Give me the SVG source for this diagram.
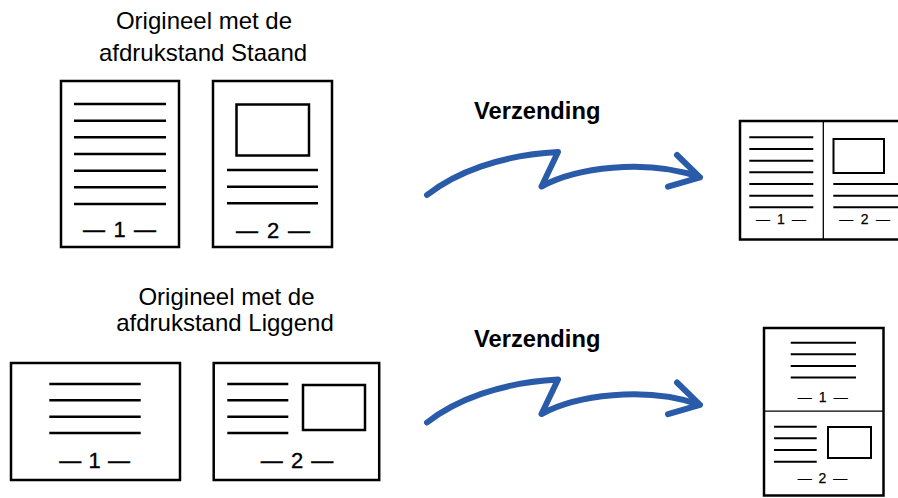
<svg xmlns="http://www.w3.org/2000/svg" width="898" height="498" viewBox="0 0 898 498">
<style>
.pg{fill:#fff;stroke:#000;stroke-width:2.5}
.pic{fill:#fff;stroke:#000;stroke-width:2.5}
.pics{fill:#fff;stroke:#000;stroke-width:2}
.ln{stroke:#000;stroke-width:2.5;fill:none}
.lns{stroke:#000;stroke-width:2;fill:none}
.div{stroke:#000;stroke-width:1.3;fill:none}
.t{font-family:"Liberation Sans",Arial,sans-serif;font-size:24px;fill:#000;text-anchor:middle}
.b{font-family:"Liberation Sans",Arial,sans-serif;font-size:23.7px;font-weight:bold;fill:#000}
.n{font-family:"Liberation Sans",Arial,sans-serif;font-size:22px;fill:#000;stroke:#000;stroke-width:0.35}
.ns{font-family:"Liberation Sans",Arial,sans-serif;font-size:14px;fill:#000;stroke:#000;stroke-width:0.25}
.arr{fill:none;stroke:#2a5ba8;stroke-width:6;stroke-linecap:round;stroke-linejoin:round}
</style>
<defs>
<path id="arrow" d="M427,195 C455,173 500,155 558,152 L541.5,186.5 C575,168 645,158 700,177.3 M677,155 L700,177.3 L668,186.7"/>
</defs>

<g id="title-portrait">
<text class="t" x="204" y="29">Origineel met de</text>
<text class="t" x="203" y="60.5">afdrukstand Staand</text>
</g>

<g id="page-portrait-1">
<rect class="pg" x="61" y="81" width="118" height="166"/>
<path class="ln" d="M74,104H166M74,120.7H166M74,137.3H166M74,154H166M74,170.7H166M74,187.3H166M74,204H166"/>
<text class="n" x="83" y="237" textLength="73" lengthAdjust="spacing">— 1 —</text>
</g>

<g id="page-portrait-2">
<rect class="pg" x="213" y="81" width="119" height="166"/>
<rect class="pic" x="236.5" y="104.5" width="72.5" height="51"/>
<path class="ln" d="M227,170H318M227,186.7H318M227,203.3H318"/>
<text class="n" x="236" y="237.5" textLength="74" lengthAdjust="spacing">— 2 —</text>
</g>

<g id="label-top">
<text class="b" x="474" y="119.3">Verzending</text>
</g>

<g id="output-top">
<rect class="pg" x="740" y="121" width="166" height="118.5"/>
<line class="div" x1="823.3" y1="121" x2="823.3" y2="239.5"/>
<path class="lns" d="M749.3,137.3H813.3M749.3,149H813.3M749.3,160.7H813.3M749.3,172.3H813.3M749.3,184H813.3M749.3,195.7H813.3M749.3,207.3H813.3"/>
<text class="ns" x="756" y="223.5" textLength="50" lengthAdjust="spacing">— 1 —</text>
<rect class="pics" x="833.5" y="139" width="50.5" height="34"/>
<path class="lns" d="M833.3,184H898M833.3,195.7H898M833.3,207.3H898"/>
<text class="ns" x="839.3" y="223.5" textLength="50.7" lengthAdjust="spacing">— 2 —</text>
</g>

<g id="title-landscape">
<text class="t" x="226.5" y="304.5">Origineel met de</text>
<text class="t" x="225" y="331">afdrukstand Liggend</text>
</g>

<g id="page-landscape-1">
<rect class="pg" x="11" y="363" width="169" height="117"/>
<path class="ln" d="M49.3,384H140.7M49.3,400.3H140.7M49.3,416.7H140.7M49.3,433H140.7"/>
<text class="n" x="59.3" y="467.5" textLength="70.7" lengthAdjust="spacing">— 1 —</text>
</g>

<g id="page-landscape-2">
<rect class="pg" x="213.7" y="363" width="165.5" height="117"/>
<path class="ln" d="M227.3,384H288.3M227.3,400.3H288.3M227.3,416.7H288.3M227.3,433H288.3"/>
<rect class="pic" x="303" y="385" width="62" height="45"/>
<text class="n" x="260.7" y="467.5" textLength="72.6" lengthAdjust="spacing">— 2 —</text>
</g>

<g id="label-bottom">
<text class="b" x="474" y="346.7">Verzending</text>
</g>

<g id="output-bottom">
<rect class="pg" x="764" y="328" width="119.5" height="167.5"/>
<line class="div" x1="764" y1="411.2" x2="883.5" y2="411.2"/>
<path class="lns" d="M790.7,342.7H856M790.7,354.3H856M790.7,366H856M790.7,377.5H856"/>
<text class="ns" x="797.7" y="402.3" textLength="50" lengthAdjust="spacing">— 1 —</text>
<path class="lns" d="M774,426.7H816.7M774,438.3H816.7M774,450H816.7M774,461.7H816.7"/>
<rect class="pics" x="828" y="427" width="43" height="31"/>
<text class="ns" x="797.7" y="483.3" textLength="49.6" lengthAdjust="spacing">— 2 —</text>
</g>

<g id="connectors">
<use href="#arrow" class="arr"/>
<use href="#arrow" class="arr" transform="translate(0,227.5)"/>
</g>
</svg>
